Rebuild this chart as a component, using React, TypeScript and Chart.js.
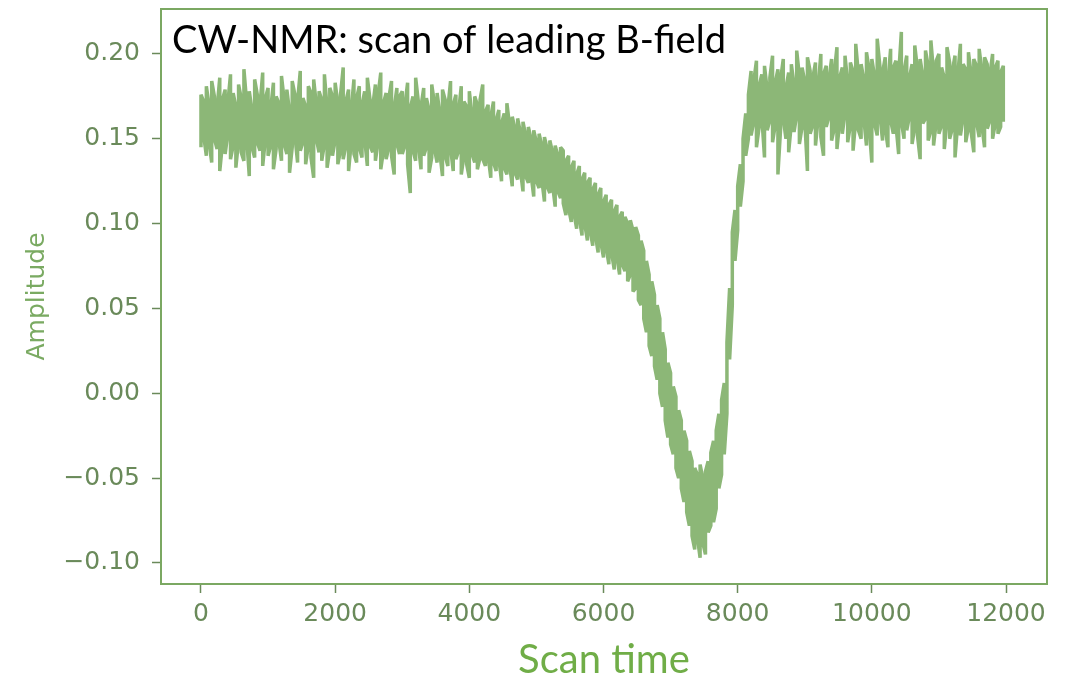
import { useEffect, useRef } from 'react';
import { Chart, registerables } from 'chart.js';

Chart.register(...registerables);

// Scan-time samples covered by one bin
const BIN_STEP = 40;

// Lowest and highest amplitude inside each bin, in thousandths
const binHighMilli = [
  // flat baseline before resonance
  176, 172, 181, 170, 184, 175, 168, 186, 173, 179, 171, 188, 177, 169, 182, 174, 191, 172, 178, 167,
  185, 176, 170, 189, 174, 180, 168, 183, 175, 171, 187, 173, 179, 166, 184, 176, 172, 190, 174, 169,
  181, 177, 185, 170, 178, 173, 188, 168, 180, 175, 183, 171, 176, 192, 172, 179, 167, 185, 174, 181,
  170, 178, 186, 173, 169, 182, 176, 189, 171, 177, 174, 184, 168, 180, 175,
  178, 170, 183, 168, 175, 186, 172, 169, 180, 174, 167, 182, 171, 177, 165, 179, 173, 168, 184, 170,
  176, 166, 181, 172, 169, 178, 164, 175, 170, 173,
  // slow approach to resonance
  182, 166, 170, 163, 172, 161, 167, 159, 165, 171, 158, 163, 156, 162, 154, 160, 152, 157, 150, 155,
  148, 153, 146, 151, 144, 149, 142, 146, 140, 145,
  143, 137, 140, 133, 137, 129, 134, 126, 130, 124, 127, 120, 124, 117, 121, 113, 117, 111, 114, 107,
  111, 104, 107,
  104, 100, 102, 96, 98, 93, 90, 84, 78, 70, 66, 58, 52, 44, 36, 26, 18,
  // absorption dip
  12, 4, -2, -10, -16, -22, -28, -34, -40,
  -44, -48, -42, -50, -46, -40, -35,
  // fast recovery
  -28, -22, -12, -4, 6,
  30, 62, 95, 108, 122, 135, 150, 165, 176,
  // baseline after resonance
  190, 184, 196, 181, 188, 193, 179, 186, 199, 183,
  191, 185, 197, 180, 189, 194, 182, 202, 187, 192,
  184, 198, 190, 186, 195, 181, 200, 188, 193, 185,
  197, 189, 204, 186, 192, 199, 183, 195, 190, 206,
  188, 194, 185, 201, 191, 197, 187, 209, 193, 189,
  198, 184, 203, 192, 196, 188, 213, 190, 199, 186,
  194, 205, 191, 197, 187, 202, 193, 208, 189, 196,
  200, 192, 186, 204, 195, 190, 199, 187, 206, 194,
  191, 201, 188, 197, 193, 203, 190, 198, 194, 188,
  200, 192, 196, 189, 193,
];

const binLowMilli = [
  // flat baseline before resonance
  145, 152, 140, 148, 136, 150, 144, 131, 147, 141, 153, 138, 146, 133, 149, 142, 137, 151, 128, 145,
  139, 148, 143, 134, 150, 140, 146, 132, 144, 149, 137, 147, 141, 130, 145, 152, 136, 143, 148, 135,
  146, 139, 127, 150, 142, 137, 147, 133, 144, 140, 149, 135, 143, 138, 146, 131, 148, 141, 136, 145,
  139, 150, 134, 146, 142, 137, 148, 132, 143, 138, 145, 140, 129, 147, 141,
  141, 146, 135, 118, 143, 137, 147, 132, 140, 145, 130, 139, 144, 136, 142, 128, 140, 134, 145, 131,
  138, 143, 129, 140, 135, 127, 141, 136, 132, 139,
  // slow approach to resonance
  138, 134, 140, 127, 136, 131, 138, 125, 133, 129, 135, 122, 130, 126, 132, 119, 128, 124, 129, 116,
  125, 121, 126, 113, 122, 118, 123, 110, 119, 115,
  112, 105, 109, 101, 106, 97, 103, 93, 100, 90, 96, 87, 93, 83, 89, 80, 86, 76, 83, 73,
  80, 70, 76,
  72, 66, 70, 60, 62, 55, 52, 44, 36, 28, 22, 16, 8, 0, -8, -16, -26,
  // absorption dip
  -30, -36, -44, -50, -56, -64, -70, -78, -84,
  -92, -85, -97, -88, -95, -82, -78,
  // fast recovery
  -76, -68, -56, -48, -36,
  -12, 20, 52, 78, 96, 110, 125, 140, 150,
  // baseline after resonance
  152, 160, 145, 157, 163, 139, 155, 161, 148, 158,
  129, 156, 162, 150, 142, 159, 154, 164, 147, 157,
  161, 131, 153, 158, 146, 162, 151, 140, 157, 163,
  149, 156, 144, 160, 153, 165, 148, 158, 143, 161,
  155, 150, 162, 146, 157, 136, 159, 152, 164, 149,
  156, 145, 161, 153, 158, 141, 160, 150, 155, 163,
  147, 157, 152, 138, 159, 162, 149, 155, 146, 160,
  153, 158, 144, 161, 150, 156, 139, 159, 152, 162,
  148, 157, 154, 142, 160, 151, 158, 145, 156, 161,
  150, 159, 153, 157, 160,
];

const xTickValues = [0, 2000, 4000, 6000, 8000, 10000, 12000];
const yTickValues = [-0.1, -0.05, 0, 0.05, 0.1, 0.15, 0.2];

const X_MIN = -596;
const X_MAX = 12611;
const Y_MIN = -0.1124;
const Y_MAX = 0.2265;

const chartTitle = 'CW-NMR: scan of leading B-field';
const xAxisTitle = 'Scan time';
const yAxisTitle = 'Amplitude';

const LINE_COLOR = '#8cb777';
const FRAME_COLOR = '#7ba862';
const TICK_COLOR = '#6a8a5a';
const Y_TITLE_COLOR = '#7aaa62';
const X_TITLE_COLOR = '#70ad47';

const formatAmplitude = (v: number) =>
  (v < -1e-9 ? '\u2212' : '') + Math.abs(v).toFixed(2);

// Trace through each bin's low and high value, alternating the order so the
// stroke sweeps the full spread of the bin like a densely sampled signal.
function buildTrace() {
  const n = Math.min(binHighMilli.length, binLowMilli.length);
  const pts: { x: number; y: number }[] = [];
  for (let k = 0; k < n; k++) {
    const x = k * BIN_STEP;
    const lo = binLowMilli[k] / 1000;
    const hi = binHighMilli[k] / 1000;
    if (k % 2 === 0) {
      pts.push({ x, y: lo }, { x, y: hi });
    } else {
      pts.push({ x, y: hi }, { x, y: lo });
    }
  }
  return pts;
}

// Frame around the plot area plus the caption written inside it
const frameAndCaption = {
  id: 'frameAndCaption',
  afterDatasetsDraw(chart: Chart) {
    const { ctx, chartArea: a } = chart;
    ctx.save();
    ctx.strokeStyle = FRAME_COLOR;
    ctx.lineWidth = 2;
    ctx.strokeRect(a.left, a.top, a.right - a.left, a.bottom - a.top);
    ctx.fillStyle = '#000000';
    ctx.font = '38px Lato';
    ctx.textBaseline = 'alphabetic';
    ctx.textAlign = 'left';
    ctx.fillText(chartTitle, a.left + 11, a.top + 44);
    ctx.restore();
  },
};

export default function App() {
  const canvasRef = useRef<HTMLCanvasElement | null>(null);

  useEffect(() => {
    const canvas = canvasRef.current;
    if (!canvas) return;

    const chart = new Chart(canvas, {
      type: 'line',
      data: {
        datasets: [
          {
            data: buildTrace(),
            borderColor: LINE_COLOR,
            borderWidth: 3.5,
            pointRadius: 0,
            tension: 0,
            fill: false,
            borderJoinStyle: 'bevel',
            borderCapStyle: 'butt',
          },
        ],
      },
      options: {
        animation: false,
        responsive: false,
        devicePixelRatio: 1,
        layout: { padding: { left: 0, right: 27, top: 9, bottom: 0 } },
        plugins: {
          legend: { display: false },
          tooltip: { enabled: false },
          title: { display: false },
        },
        scales: {
          x: {
            type: 'linear',
            min: X_MIN,
            max: X_MAX,
            afterFit: (scale: any) => {
              scale.height = 92;
              scale.paddingLeft = 0;
              scale.paddingRight = 0;
            },
            afterBuildTicks: (scale: any) => {
              scale.ticks = xTickValues.map((v) => ({ value: v }));
            },
            border: { display: false },
            grid: {
              display: true,
              drawOnChartArea: false,
              drawTicks: true,
              tickLength: 9,
              tickColor: TICK_COLOR,
              tickWidth: 1.5,
            },
            ticks: {
              color: TICK_COLOR,
              font: { family: 'DejaVu Sans', size: 25 },
              padding: 6,
              maxRotation: 0,
              autoSkip: false,
              callback: (v: any) => String(v),
            },
            title: {
              display: true,
              text: xAxisTitle,
              color: X_TITLE_COLOR,
              font: { family: 'Lato', size: 40, lineHeight: 1 },
              padding: { top: 0, bottom: -4 },
            },
          },
          y: {
            type: 'linear',
            min: Y_MIN,
            max: Y_MAX,
            afterFit: (scale: any) => {
              scale.width = 161;
              scale.paddingTop = 0;
              scale.paddingBottom = 0;
            },
            afterBuildTicks: (scale: any) => {
              scale.ticks = yTickValues.map((v) => ({ value: v }));
            },
            border: { display: false },
            grid: {
              display: true,
              drawOnChartArea: false,
              drawTicks: true,
              tickLength: 9,
              tickColor: TICK_COLOR,
              tickWidth: 1.5,
            },
            ticks: {
              color: TICK_COLOR,
              font: { family: 'DejaVu Sans', size: 25 },
              padding: 12,
              autoSkip: false,
              callback: (v: any) => formatAmplitude(Number(v)),
            },
            title: {
              display: true,
              text: yAxisTitle,
              color: Y_TITLE_COLOR,
              font: { family: 'DejaVu Sans', size: 25, lineHeight: 1 },
              padding: { top: 25, bottom: 0 },
            },
          },
        },
      },
      plugins: [frameAndCaption],
    });

    return () => chart.destroy();
  }, []);

  return (
    <div style={{ position: 'absolute', left: 0, top: 0, width: 1074, height: 676, background: '#ffffff' }}>
      <canvas ref={canvasRef} width={1074} height={676} />
    </div>
  );
}
